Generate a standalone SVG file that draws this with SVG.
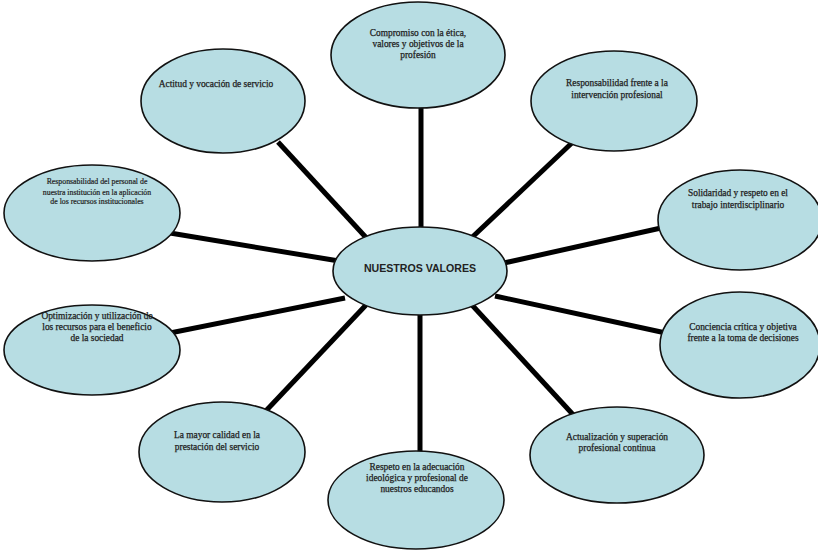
<svg xmlns="http://www.w3.org/2000/svg" width="818" height="550" viewBox="0 0 818 550">
<style>
.n ellipse{fill:#b7dde3;stroke:#111;stroke-width:1.6}
.t{font-family:"Liberation Serif",serif;font-size:9.4px;fill:#222;stroke:#222;stroke-width:0.25;text-anchor:middle}
.s{font-size:7.8px;stroke-width:0.2}
.c line{stroke:#000;stroke-width:5;stroke-linecap:butt}
.m{font-family:"Liberation Sans",Arial,sans-serif;font-weight:bold;font-size:10.6px;fill:#222;text-anchor:middle}
</style>
<rect width="818" height="550" fill="#fff"/>
<g id="connectors" class="c">
<line x1="421" y1="100" x2="421" y2="240"/>
<line x1="278" y1="142" x2="372" y2="244"/>
<line x1="575" y1="140" x2="465" y2="244"/>
<line x1="170" y1="233" x2="345" y2="262"/>
<line x1="670" y1="226" x2="495" y2="265"/>
<line x1="165" y1="334" x2="345" y2="298"/>
<line x1="675" y1="335" x2="495" y2="296"/>
<line x1="262" y1="415" x2="366" y2="305"/>
<line x1="578" y1="420" x2="472" y2="305"/>
<line x1="420" y1="300" x2="420" y2="460"/>
</g>
<g id="n-compromiso" class="n"><ellipse cx="418" cy="55" rx="87" ry="53"/>
<text class="t" x="418" y="36">Compromiso con la ética,</text><text class="t" x="418" y="47">valores y objetivos de la</text><text class="t" x="418" y="58">profesión</text></g>
<g id="n-actitud" class="n"><ellipse cx="223" cy="101" rx="82" ry="52"/>
<text class="t" x="216" y="87">Actitud y vocación de servicio</text></g>
<g id="n-responsabilidad-frente" class="n"><ellipse cx="614" cy="101" rx="83" ry="50"/>
<text class="t" x="617" y="86">Responsabilidad frente a la</text><text class="t" x="617" y="98">intervención profesional</text></g>
<g id="n-responsabilidad-personal" class="n"><ellipse cx="92" cy="213" rx="88" ry="48"/>
<text class="t s" x="97" y="184">Responsabilidad del personal de</text><text class="t s" x="97" y="195">nuestra institución en la aplicación</text><text class="t s" x="97" y="204">de los recursos institucionales</text></g>
<g id="n-solidaridad" class="n"><ellipse cx="740" cy="220" rx="82" ry="50"/>
<text class="t" x="738" y="196">Solidaridad y respeto en el</text><text class="t" x="738" y="208">trabajo interdisciplinario</text></g>
<g id="n-center" class="n"><ellipse cx="420" cy="271" rx="87" ry="44"/>
<text class="m" x="420" y="272">NUESTROS VALORES</text></g>
<g id="n-optimizacion" class="n"><ellipse cx="92" cy="350" rx="88" ry="45"/>
<text class="t" x="97" y="319">Optimización y utilización de</text><text class="t" x="97" y="330">los recursos para el beneficio</text><text class="t" x="97" y="341">de la sociedad</text></g>
<g id="n-conciencia" class="n"><ellipse cx="740" cy="345" rx="80" ry="53"/>
<text class="t" x="743" y="330">Conciencia crítica y objetiva</text><text class="t" x="743" y="341">frente a la toma de decisiones</text></g>
<g id="n-calidad" class="n"><ellipse cx="222" cy="452" rx="83" ry="50"/>
<text class="t" x="217" y="438">La mayor calidad en la</text><text class="t" x="217" y="450">prestación del servicio</text></g>
<g id="n-actualizacion" class="n"><ellipse cx="617" cy="455" rx="87" ry="48"/>
<text class="t" x="617" y="440">Actualización y superación</text><text class="t" x="617" y="451">profesional continua</text></g>
<g id="n-respeto" class="n"><ellipse cx="416" cy="500" rx="88" ry="49"/>
<text class="t" x="417" y="470">Respeto en la adecuación</text><text class="t" x="417" y="481">ideológica y profesional de</text><text class="t" x="417" y="492">nuestros educandos</text></g>
</svg>
